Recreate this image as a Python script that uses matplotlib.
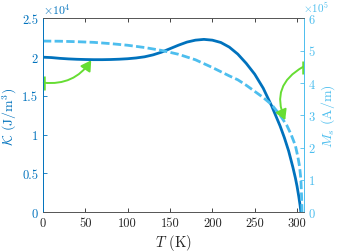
import numpy as np
import matplotlib
matplotlib.use("Agg")
import matplotlib.pyplot as plt

plt.rcParams['font.family'] = 'serif'
plt.rcParams['font.serif'] = ['cmr10', 'DejaVu Serif']
plt.rcParams['mathtext.fontset'] = 'cm'
plt.rcParams['axes.unicode_minus'] = False

# 数据
T_K = [0, 10, 20, 30, 40, 50, 60, 70, 80, 90, 100, 110, 120, 130, 140, 150,
       160, 170, 180, 190, 200, 210, 220, 230, 240, 250, 260, 270, 280, 285,
       290, 295, 298, 300, 302, 303.5, 304.5]
K_vals = [2.000, 1.995, 1.985, 1.978, 1.973, 1.970, 1.968, 1.968, 1.970,
          1.974, 1.980, 1.990, 2.005, 2.030, 2.065, 2.110, 2.155, 2.195,
          2.220, 2.230, 2.220, 2.190, 2.130, 2.040, 1.920, 1.780, 1.600,
          1.370, 1.110, 0.960, 0.790, 0.580, 0.440, 0.330, 0.200, 0.090, 0.0]

T_M = [0, 20, 40, 60, 80, 100, 120, 140, 160, 180, 200, 220, 230, 240, 250,
       260, 270, 280, 288, 293, 298, 301, 303, 304.5, 305.3, 305.8]
Ms_vals = [5.30, 5.295, 5.28, 5.26, 5.22, 5.17, 5.10, 5.01, 4.89, 4.72,
           4.48, 4.22, 4.10, 3.93, 3.74, 3.55, 3.33, 3.00, 2.68, 2.40, 2.06,
           1.70, 1.40, 1.00, 0.50, 0.0]

c_K = '#0072BD'
c_M = '#4DBEEE'
c_arrow = '#66DD33'
c_grey = '#262626'

fig = plt.figure(figsize=(3.38, 2.53), dpi=100)
ax = fig.add_axes([0.127, 0.158, 0.772, 0.765])
ax2 = ax.twinx()

ax.plot(T_K, K_vals, color=c_K, lw=2.0, zorder=3)
ax2.plot(T_M, Ms_vals, color=c_M, lw=2.0, dashes=(3, 1.2))

ax.set_xlim(0, 308)
ax.set_ylim(0, 2.5)
ax2.set_ylim(0, 6)
ax.set_xticks([0, 50, 100, 150, 200, 250, 300])
ax.set_yticks([0, 0.5, 1, 1.5, 2, 2.5])
ax.set_yticklabels(['0', '0.5', '1', '1.5', '2', '2.5'])
ax2.set_yticks([0, 1, 2, 3, 4, 5, 6])

for a in (ax, ax2):
    a.tick_params(direction='in', length=3, width=0.6, labelsize=9)
ax.tick_params(axis='x', colors=c_grey, top=True)
ax.tick_params(axis='y', colors=c_K)
ax2.tick_params(axis='y', colors=c_M)
for a in (ax, ax2):
    a.spines['top'].set_color('#555555')
    a.spines['bottom'].set_color('#555555')
    a.spines['left'].set_color(c_K)
    a.spines['right'].set_color(c_M)
    for s in a.spines.values():
        s.set_linewidth(0.6)

ax.set_xlabel(r'$T$ (K)', color=c_grey, fontsize=10.5, labelpad=2)
ax.set_ylabel(r'$\mathcal{K}$ (J/m$^3$)', color=c_K, fontsize=10, labelpad=2)
ax2.set_ylabel(r'$M_s$ (A/m)', color=c_M, fontsize=10, labelpad=3)

ax.text(0.0, 1.015, r'$\times10^4$', transform=ax.transAxes, color=c_K,
        fontsize=8.5, ha='left', va='bottom')
ax2.text(0.995, 1.025, r'$\times10^5$', transform=ax2.transAxes, color=c_M,
         fontsize=8, ha='left', va='bottom')

# 箭头（起点带竖线）
arrow_style = '-|>,head_length=0.6,head_width=0.35'
ax.annotate('', xy=(57, 1.96), xytext=(1, 1.67),
            arrowprops=dict(arrowstyle=arrow_style, color=c_arrow, lw=1.4,
                            shrinkA=0, shrinkB=0,
                            connectionstyle='arc3,rad=0.3'))
ax.plot([1, 1], [1.58, 1.76], color=c_arrow, lw=1.8, solid_capstyle='butt')
ax2.annotate('', xy=(286, 2.85), xytext=(307, 4.5),
             arrowprops=dict(arrowstyle=arrow_style, color=c_arrow, lw=1.4,
                             shrinkA=0, shrinkB=0,
                             connectionstyle='arc3,rad=0.45'))
ax2.plot([307, 307], [4.29, 4.68], color=c_arrow, lw=1.8, solid_capstyle='butt')

fig.savefig('out.png', dpi=100)
